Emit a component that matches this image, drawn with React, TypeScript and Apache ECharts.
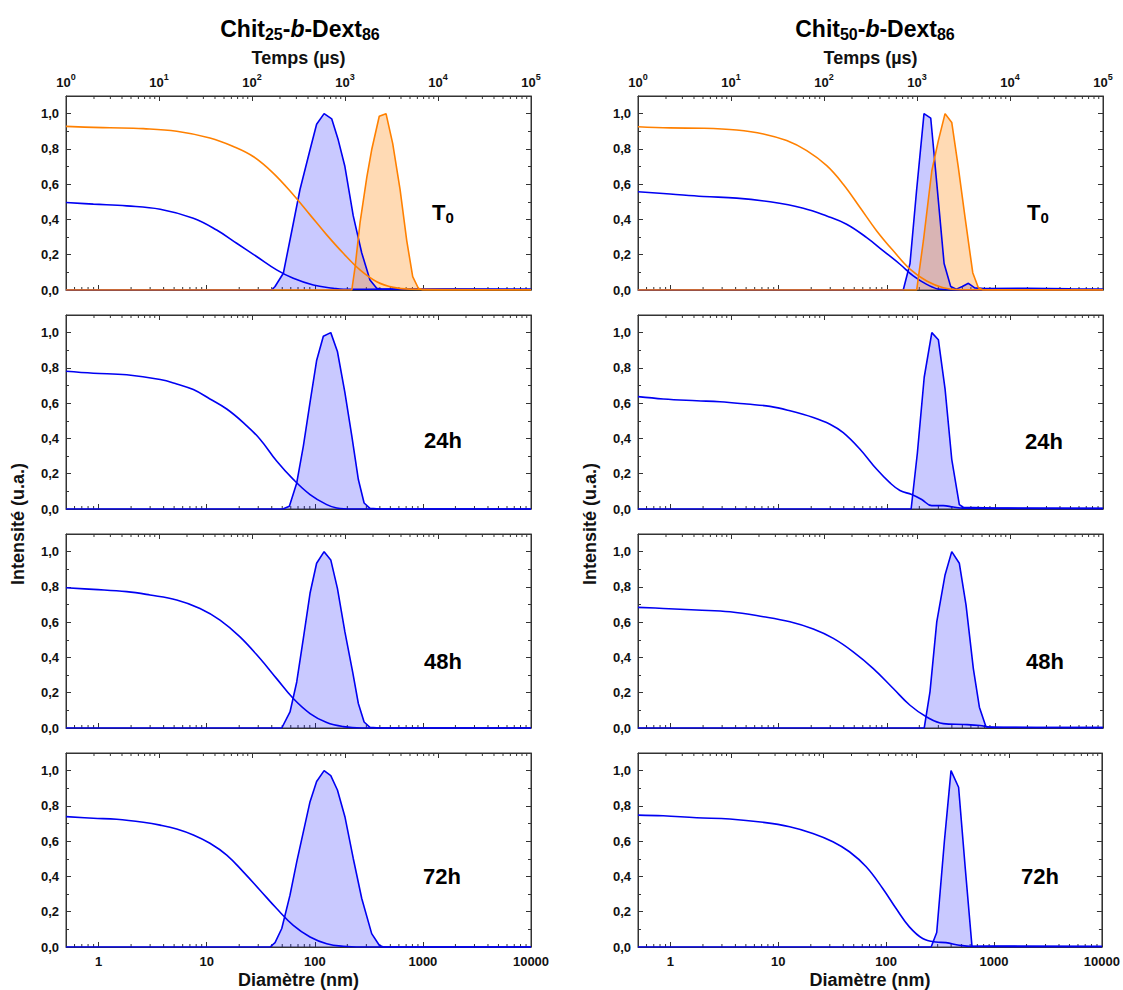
import React, { useEffect, useRef } from 'react';
import * as echarts from 'echarts';

type Pt = [number, number];

// ---------- DATA ----------
// Size distributions: [diameter (nm), normalised intensity]
// Correlation functions: [time (µs), g2-1]

// Chit25-b-Dext86
const c25T0BlueDist: Pt[] = [[0.5, 0], [40, 0], [42.9, 0.02], [51.2, 0.095], [63.4, 0.38], [73, 0.57], [90.4, 0.795], [104, 0.94], [122, 1.0], [143.6, 0.97], [165, 0.85], [190, 0.7], [227, 0.42], [272, 0.21], [324, 0.057], [374, 0.01], [420, 0.004], [2000, 0.006], [10000, 0.004]];
const c25T0BlueCorr: Pt[] = [[1, 0.496], [1.97, 0.487], [4.5, 0.477], [10.3, 0.458], [23.4, 0.407], [41.7, 0.34], [68.4, 0.265], [112, 0.19], [184, 0.114], [278, 0.066], [456, 0.028], [748, 0.01], [959, 0.004], [3000, 0.005], [100000, 0.004]];
const c25T0OrangeCorr: Pt[] = [[1, 0.928], [1.97, 0.922], [2.97, 0.92], [6.78, 0.915], [15.5, 0.9], [35.3, 0.862], [63, 0.814], [103, 0.757], [169, 0.663], [278, 0.54], [421, 0.426], [636, 0.3125], [959, 0.208], [1449, 0.114], [2193, 0.047], [3306, 0.015], [5000, 0.005], [100000, 0.001]];
const c25T0OrangeDist: Pt[] = [[0.5, 0], [220, 0], [236, 0.13], [262, 0.38], [303, 0.64], [336, 0.795], [395, 0.985], [456, 1.0], [526, 0.83], [615, 0.57], [709, 0.28], [805, 0.076], [908, 0.01], [1000, 0], [10000, 0]];

const c25H24Dist: Pt[] = [[0.5, 0], [50.6, 0], [58.2, 0.015], [68.1, 0.148], [78.4, 0.357], [90.4, 0.605], [104, 0.842], [120, 0.98], [140.6, 1.0], [162, 0.893], [190, 0.66], [220, 0.415], [253, 0.167], [286, 0.034], [324, 0.004], [400, 0], [10000, 0]];
const c25H24Corr: Pt[] = [[1, 0.781], [1.97, 0.77], [4.5, 0.761], [10.3, 0.734], [15.5, 0.709], [23.4, 0.677], [35.3, 0.624], [53.5, 0.567], [80.6, 0.49], [122, 0.396], [184, 0.272], [278, 0.168], [421, 0.082], [636, 0.025], [815, 0.006], [1200, 0], [100000, 0]];

const c25H48Dist: Pt[] = [[0.5, 0], [49.5, 0], [59, 0.091], [68.1, 0.261], [78.4, 0.508], [90.4, 0.764], [104, 0.934], [122, 1.0], [140.6, 0.953], [162, 0.792], [190, 0.545], [224, 0.318], [253, 0.139], [286, 0.034], [324, 0.004], [400, 0], [10000, 0]];
const c25H48Corr: Pt[] = [[1, 0.795], [1.97, 0.786], [4.5, 0.773], [8.0, 0.754], [15.5, 0.726], [27.6, 0.678], [45.3, 0.612], [74.3, 0.517], [122, 0.394], [184, 0.28], [278, 0.167], [421, 0.082], [636, 0.031], [959, 0.008], [1500, 0], [100000, 0]];

const c25H72Dist: Pt[] = [[0.5, 0], [38.6, 0], [42.9, 0.025], [49.5, 0.105], [59, 0.294], [68.1, 0.483], [78.4, 0.653], [90.4, 0.824], [104, 0.938], [122, 1.0], [140.6, 0.972], [162, 0.89], [190, 0.739], [227, 0.502], [272, 0.275], [336, 0.076], [395, 0.01], [430, 0], [10000, 0]];
const c25H72Corr: Pt[] = [[1, 0.739], [1.97, 0.73], [3.51, 0.724], [6.78, 0.707], [10.3, 0.691], [15.5, 0.669], [23.4, 0.635], [35.3, 0.588], [53.5, 0.521], [80.6, 0.426], [122, 0.322], [184, 0.218], [278, 0.123], [421, 0.057], [636, 0.019], [959, 0.004], [1500, 0], [100000, 0]];

// Chit50-b-Dext86
const c50T0BlueDist: Pt[] = [[0.5, 0], [142, 0], [164, 0.15], [189, 0.57], [221, 1.0], [255, 0.975], [290, 0.606], [339, 0.15], [390, 0.02], [440, 0.005], [500, 0.02], [569, 0.038], [650, 0.012], [800, 0.008], [2000, 0.01], [5000, 0.007], [10000, 0.006]];
const c50T0BlueCorr: Pt[] = [[1, 0.557], [2.21, 0.544], [5.04, 0.53], [11.5, 0.521], [26.3, 0.5], [59.9, 0.464], [107, 0.42], [175, 0.373], [288, 0.297], [434, 0.222], [656, 0.146], [912, 0.08], [1271, 0.032], [1767, 0.004], [3000, 0], [100000, 0]];
const c50T0OrangeCorr: Pt[] = [[1, 0.926], [2.21, 0.919], [5.04, 0.917], [11.5, 0.907], [22.3, 0.885], [39.7, 0.847], [65.2, 0.79], [107, 0.705], [161, 0.6], [244, 0.468], [369, 0.335], [556, 0.222], [841, 0.118], [1271, 0.051], [1918, 0.013], [2900, 0.002], [100000, 0]];
const c50T0OrangeDist: Pt[] = [[0.5, 0], [189, 0], [218, 0.278], [261, 0.676], [300, 0.847], [346, 1.0], [399, 0.95], [459, 0.695], [530, 0.41], [624, 0.098], [703, 0.013], [780, 0], [10000, 0]];

const c50H24Dist: Pt[] = [[0.5, 0], [168, 0], [192, 0.319], [222, 0.747], [261, 1.0], [300, 0.96], [346, 0.681], [399, 0.282], [469, 0.025], [510, 0.01], [1000, 0.005], [10000, 0.004]];
const c50H24Corr: Pt[] = [[1, 0.637], [1.87, 0.624], [4.28, 0.614], [7.61, 0.608], [14.8, 0.595], [26.3, 0.582], [43.1, 0.557], [76.7, 0.519], [116, 0.481], [161, 0.433], [244, 0.339], [369, 0.225], [513, 0.148], [656, 0.105], [877, 0.082], [1124, 0.054], [1439, 0.019], [1918, 0.019], [2455, 0.011], [3148, 0.005], [100000, 0.002]];

const c50H48Dist: Pt[] = [[0.5, 0], [222, 0], [251, 0.205], [290, 0.602], [346, 0.868], [399, 1.0], [469, 0.934], [541, 0.697], [632, 0.337], [719, 0.118], [828, 0.006], [1000, 0.003], [10000, 0.003]];
const c50H48Corr: Pt[] = [[1, 0.684], [1.87, 0.678], [4.28, 0.669], [9.76, 0.659], [22.3, 0.631], [43.1, 0.602], [76.7, 0.561], [126, 0.508], [206, 0.432], [339, 0.337], [556, 0.224], [841, 0.129], [1271, 0.0625], [1918, 0.025], [3148, 0.02], [4757, 0.014], [6095, 0.006], [100000, 0.002]];

const c50H72Dist: Pt[] = [[0.5, 0], [261, 0], [294, 0.082], [346, 0.597], [399, 1.0], [469, 0.906], [541, 0.445], [624, 0.004], [1000, 0.006], [10000, 0.004]];
const c50H72Corr: Pt[] = [[1, 0.748], [1.87, 0.744], [4.28, 0.733], [9.76, 0.726], [22.3, 0.707], [43.1, 0.682], [76.7, 0.644], [126, 0.597], [190, 0.54], [288, 0.455], [434, 0.332], [605, 0.218], [841, 0.114], [1169, 0.048], [1629, 0.028], [2086, 0.025], [2900, 0.01], [4028, 0.003], [100000, 0.001]];

const panelLabels = ['T', '24h', '48h', '72h'];
const columnTitles = [['25', '86'], ['50', '86']];

// ---------- STYLE ----------
const BLUE = '#0000f2';
const ORANGE = '#ff8000';
const BLUE_FILL = 'rgba(0,0,255,0.30)';
const ORANGE_FILL = 'rgba(255,128,0,0.42)';
const FONT = '"Liberation Sans", Arial, Helvetica, sans-serif';
const AXIS = '#333';
const TICK_FS = 13;
const NAME_FS = 18;

const GRID_LEFT = [66, 638];
const GRID_TOP = [96, 315, 534, 753];
const GRID_W = 465;
const GRID_H = 194;
const LABEL_POS = [
  [[443, 212], [443, 440], [443, 661], [442, 876]],
  [[1038, 212], [1044, 441], [1045, 661], [1040, 876]],
];

type Curve = { kind: 'dist' | 'corr'; data: Pt[]; color: string };
const panels: { col: number; row: number; curves: Curve[] }[] = [
  { col: 0, row: 0, curves: [
    { kind: 'dist', data: c25T0BlueDist, color: BLUE },
    { kind: 'corr', data: c25T0BlueCorr, color: BLUE },
    { kind: 'corr', data: c25T0OrangeCorr, color: ORANGE },
    { kind: 'dist', data: c25T0OrangeDist, color: ORANGE },
  ] },
  { col: 0, row: 1, curves: [{ kind: 'dist', data: c25H24Dist, color: BLUE }, { kind: 'corr', data: c25H24Corr, color: BLUE }] },
  { col: 0, row: 2, curves: [{ kind: 'dist', data: c25H48Dist, color: BLUE }, { kind: 'corr', data: c25H48Corr, color: BLUE }] },
  { col: 0, row: 3, curves: [{ kind: 'dist', data: c25H72Dist, color: BLUE }, { kind: 'corr', data: c25H72Corr, color: BLUE }] },
  { col: 1, row: 0, curves: [
    { kind: 'dist', data: c50T0BlueDist, color: BLUE },
    { kind: 'corr', data: c50T0BlueCorr, color: BLUE },
    { kind: 'corr', data: c50T0OrangeCorr, color: ORANGE },
    { kind: 'dist', data: c50T0OrangeDist, color: ORANGE },
  ] },
  { col: 1, row: 1, curves: [{ kind: 'dist', data: c50H24Dist, color: BLUE }, { kind: 'corr', data: c50H24Corr, color: BLUE }] },
  { col: 1, row: 2, curves: [{ kind: 'dist', data: c50H48Dist, color: BLUE }, { kind: 'corr', data: c50H48Corr, color: BLUE }] },
  { col: 1, row: 3, curves: [{ kind: 'dist', data: c50H72Dist, color: BLUE }, { kind: 'corr', data: c50H72Corr, color: BLUE }] },
];

// log minor tick positions (axis structure, not data)
function logMinors(lo: number, hi: number): number[] {
  const out: number[] = [];
  for (let e = -1; e <= 5; e++) {
    for (let k = 2; k <= 9; k++) {
      const v = k * Math.pow(10, e);
      if (v > lo * 1.0001 && v < hi * 0.9999) out.push(v);
    }
  }
  return out;
}
const minorDiam = logMinors(0.5, 10000);
const minorTime = logMinors(1, 100000);

function buildOption() {
  const grid: any[] = [];
  const xAxis: any[] = [];
  const yAxis: any[] = [];
  const series: any[] = [];
  const graphic: any[] = [];

  panels.forEach((p, i) => {
    grid.push({
      left: GRID_LEFT[p.col], top: GRID_TOP[p.row], width: GRID_W, height: GRID_H,
      show: true, borderColor: AXIS, borderWidth: 1, backgroundColor: 'transparent',
    });
    const bottomRow = p.row === 3;
    const topRow = p.row === 0;
    // diameter axis (bottom)
    xAxis.push({
      gridIndex: i, type: 'log', logBase: 10, min: 0.5, max: 10000, position: 'bottom',
      axisLine: { show: true, onZero: false, lineStyle: { color: AXIS, width: 1 } },
      axisTick: { show: true, inside: true, length: 5, lineStyle: { color: AXIS } },
      axisLabel: {
        show: bottomRow, margin: 8, fontSize: TICK_FS, fontWeight: 'bold', color: '#111', fontFamily: FONT,
        formatter: (v: number) => (v < 0.9 ? '' : String(Math.round(v))),
      },
      splitLine: { show: false },
      name: bottomRow ? 'Diamètre (nm)' : '',
      nameLocation: 'middle', nameGap: 24,
      nameTextStyle: { fontSize: NAME_FS, fontWeight: 'bold', color: '#111', fontFamily: FONT },
    });
    // time axis (top)
    xAxis.push({
      gridIndex: i, type: 'log', logBase: 10, min: 1, max: 100000, position: 'top',
      axisLine: { show: true, onZero: false, lineStyle: { color: AXIS, width: 1 } },
      axisTick: { show: true, inside: true, length: 5, lineStyle: { color: AXIS } },
      axisLabel: {
        show: topRow, margin: 3, color: '#111', fontFamily: FONT,
        formatter: (v: number) => `{a|10}{e|${Math.round(Math.log10(v))}}`,
        rich: {
          a: { fontSize: 13, fontWeight: 'bold', color: '#111', fontFamily: FONT, lineHeight: 21 },
          e: { fontSize: 9, fontWeight: 'bold', color: '#111', fontFamily: FONT, lineHeight: 10, verticalAlign: 'top' },
        },
      },
      splitLine: { show: false },
      name: topRow ? 'Temps (µs)' : '',
      nameLocation: 'middle', nameGap: 29,
      nameTextStyle: { fontSize: NAME_FS, fontWeight: 'bold', color: '#111', fontFamily: FONT },
    });
    yAxis.push({
      gridIndex: i, type: 'value', min: 0, max: 1.1, interval: 0.2, position: 'left',
      axisLine: { show: true, onZero: false, lineStyle: { color: AXIS, width: 1 } },
      axisTick: { show: true, inside: true, length: 5, lineStyle: { color: AXIS } },
      minorTick: { show: true, splitNumber: 2, length: 3, lineStyle: { color: AXIS } },
      axisLabel: {
        show: true, margin: 7, fontSize: TICK_FS, fontWeight: 'bold', color: '#111', fontFamily: FONT,
        formatter: (v: number) => (v > 1.05 ? '' : v.toFixed(1).replace('.', ',')),
      },
      splitLine: { show: false },
    });
    yAxis.push({
      gridIndex: i, type: 'value', min: 0, max: 1.1, interval: 0.2, position: 'right',
      axisLine: { show: true, onZero: false, lineStyle: { color: AXIS, width: 1 } },
      axisTick: { show: true, inside: true, length: 5, lineStyle: { color: AXIS } },
      minorTick: { show: true, splitNumber: 2, length: 3, lineStyle: { color: AXIS } },
      axisLabel: { show: false },
      splitLine: { show: false },
    });

    // minor log ticks
    series.push({
      type: 'custom', xAxisIndex: 2 * i, yAxisIndex: 2 * i, silent: true, z: 1,
      data: minorDiam.map((v) => [v, 0]),
      renderItem: (_params: any, api: any) => {
        const c = api.coord([api.value(0), api.value(1)]);
        return { type: 'line', shape: { x1: c[0], y1: c[1], x2: c[0], y2: c[1] - 3 }, style: { stroke: AXIS, lineWidth: 1 } };
      },
    });
    series.push({
      type: 'custom', xAxisIndex: 2 * i + 1, yAxisIndex: 2 * i, silent: true, z: 1,
      data: minorTime.map((v) => [v, 1.1]),
      renderItem: (_params: any, api: any) => {
        const c = api.coord([api.value(0), api.value(1)]);
        return { type: 'line', shape: { x1: c[0], y1: c[1], x2: c[0], y2: c[1] + 3 }, style: { stroke: AXIS, lineWidth: 1 } };
      },
    });

    p.curves.forEach((cv) => {
      const isDist = cv.kind === 'dist';
      series.push({
        type: 'line',
        xAxisIndex: isDist ? 2 * i : 2 * i + 1,
        yAxisIndex: 2 * i,
        data: cv.data,
        showSymbol: false,
        symbol: 'none',
        smooth: isDist ? false : 0.4,
        lineStyle: { color: cv.color, width: 1.6 },
        itemStyle: { color: cv.color },
        areaStyle: isDist ? { color: cv.color === BLUE ? BLUE_FILL : ORANGE_FILL, origin: 'start' } : undefined,
        z: 3,
        silent: true,
      });
    });

    // panel label
    const [lx, ly] = LABEL_POS[p.col][p.row];
    const isT0 = p.row === 0;
    graphic.push({
      type: 'text', x: lx, y: ly, silent: true,
      style: {
        text: isT0 ? '{t|T}{s|0}' : `{t|${panelLabels[p.row]}}`,
        textAlign: 'center', textVerticalAlign: 'middle',
        rich: {
          t: { fontSize: 22, fontWeight: 'bold', fontFamily: FONT, fill: '#000', lineHeight: 26 },
          s: { fontSize: 15, fontWeight: 'bold', fontFamily: FONT, fill: '#000', lineHeight: 20, verticalAlign: 'bottom' },
        },
      },
    });
  });

  // column titles
  const titleX = [300, 875];
  columnTitles.forEach((t, c) => {
    graphic.push({
      type: 'text', x: titleX[c], y: 29, silent: true,
      style: {
        text: `{n|Chit}{s|${t[0]}}{n|-}{i|b}{n|-Dext}{s|${t[1]}}`,
        textAlign: 'center', textVerticalAlign: 'middle',
        rich: {
          n: { fontSize: 23, fontWeight: 'bold', fontFamily: FONT, fill: '#000', lineHeight: 27 },
          i: { fontSize: 23, fontWeight: 'bold', fontStyle: 'italic', fontFamily: FONT, fill: '#000', lineHeight: 27 },
          s: { fontSize: 16, fontWeight: 'bold', fontFamily: FONT, fill: '#000', lineHeight: 18, verticalAlign: 'bottom' },
        },
      },
    });
  });

  // y axis names
  [18, 590].forEach((x) => {
    graphic.push({
      type: 'text', x, y: 524, rotation: Math.PI / 2, silent: true,
      style: {
        text: 'Intensité (u.a.)', textAlign: 'center', textVerticalAlign: 'middle',
        font: `bold ${NAME_FS}px ${FONT}`, fill: '#111',
      },
    });
  });

  return {
    animation: false,
    backgroundColor: '#ffffff',
    textStyle: { fontFamily: FONT },
    grid, xAxis, yAxis, series, graphic,
  };
}

export default function App() {
  const ref = useRef<HTMLDivElement>(null);
  useEffect(() => {
    if (!ref.current) return;
    const chart = echarts.init(ref.current, undefined, { renderer: 'svg' });
    chart.setOption(buildOption() as any);
    return () => chart.dispose();
  }, []);
  return (
    <div
      ref={ref}
      style={{ position: 'absolute', left: 0, top: 0, width: 1123, height: 990, background: '#fff' }}
    />
  );
}
